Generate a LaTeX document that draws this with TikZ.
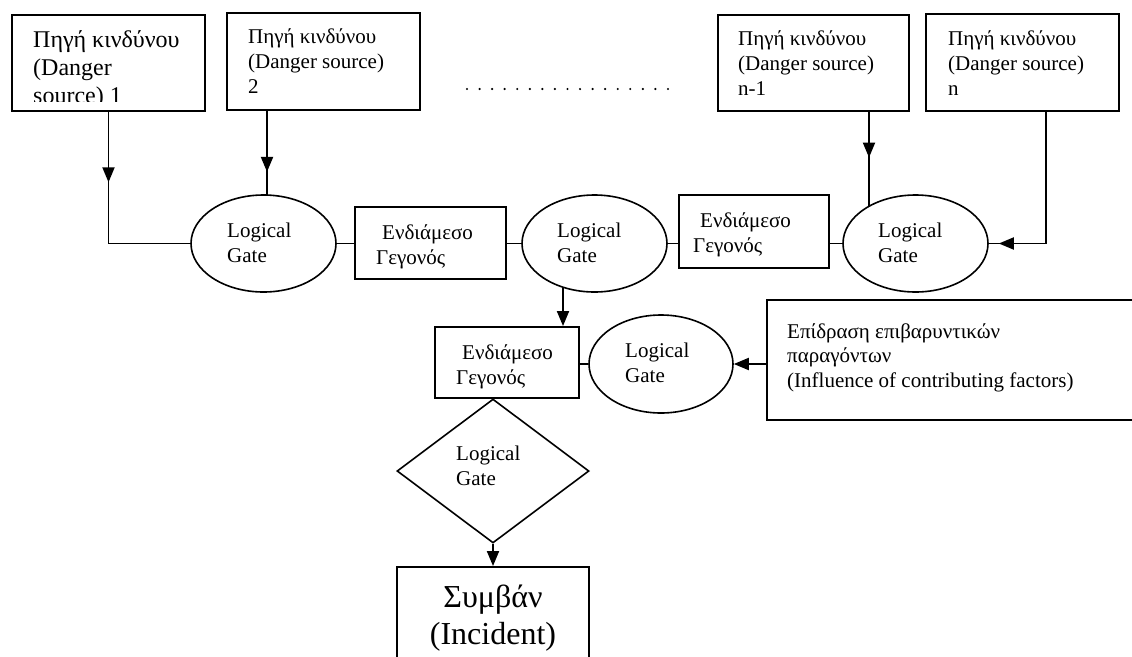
\documentclass[tikz,border=0pt]{standalone}
\usepackage{fontspec}
\setmainfont{Liberation Serif}
\usetikzlibrary{arrows.meta,shapes.geometric,decorations.markings,backgrounds}

\tikzset{
  tip/.tip={Triangle[length=15pt,width=12pt]},
  framebox/.style={draw, rectangle, line width=1.9pt, inner sep=0pt},
  gate/.style={draw, ellipse, fill=white, line width=1.6pt, inner sep=0pt,
               minimum width=145pt, minimum height=97pt},
  gatediamond/.style={draw, diamond, fill=white, line width=1.6pt, inner sep=0pt,
               minimum width=192pt, minimum height=144pt},
  txt/.style={inner sep=0pt, align=left, anchor=north west,
              font=\fontsize{21}{25}\selectfont},
  conn/.style={line width=1.9pt},
  endtip/.style={conn, -tip},
  midtip/.style={conn, postaction={decorate},
    decoration={markings, mark=at position #1 with {\arrow{tip}}}},
}

\begin{document}
\begin{tikzpicture}[x=1pt, y=-1pt]
\useasboundingbox (0,0) rectangle (1132,656);
\clip (0,0) rectangle (1132,656);

% danger sources
\node[framebox, minimum width=193pt, minimum height=96pt] (src1) at (108.5,63) {};
\begin{scope}
  % the first source's text runs past its inner margin and is cut there
  \clip (src1.north west) rectangle ([yshift=10pt]src1.south east);
  \node[txt, font=\fontsize{24}{28}\selectfont] (src1t) at (33,27.5)
    {\strut Πηγή κινδύνου\\(Danger\\source) 1};
\end{scope}
\node[framebox, minimum width=193pt, minimum height=97pt] (src2) at (323.5,61.5) {};
\node[txt] (src2t) at (248,25.5) {\strut Πηγή κινδύνου\\(Danger source)\\2};
\node[framebox, minimum width=191pt, minimum height=96pt] (srcm) at (813.5,63) {};
\node[txt] (srcmt) at (738,28) {\strut Πηγή κινδύνου\\(Danger source)\\n-1};
\node[framebox, minimum width=193pt, minimum height=97pt] (srcn) at (1022.5,62.5) {};
\node[txt] (srcnt) at (948,28) {\strut Πηγή κινδύνου\\(Danger source)\\n};

% ellipsis between the sources
\draw[line width=2.4pt, line cap=round, dash pattern=on 0pt off 12.56pt]
  (467,89) -- (669,89);

% gates and intermediate events
\node[gate] (g1) at (263.5,243.5) {};
\node[txt] (g1t) at (227,219.5) {\strut Logical\\Gate};
\node[framebox, minimum width=151pt, minimum height=72pt] (ev1) at (430.5,243) {};
\node[txt] (ev1t) at (376,221.5) {\strut\hspace*{6pt}Ενδιάμεσο\\Γεγονός};
\node[gate] (g2) at (594.5,243.5) {};
\node[txt] (g2t) at (557,219.5) {\strut Logical\\Gate};
\node[framebox, minimum width=150pt, minimum height=73pt] (ev2) at (754,231.5) {};
\node[txt] (ev2t) at (693,209.5) {\strut\hspace*{7pt}Ενδιάμεσο\\Γεγονός};
\node[gate] (g3) at (915.5,243.5) {};
\node[txt] (g3t) at (878,219.5) {\strut Logical\\Gate};

\node[framebox, minimum width=144pt, minimum height=71pt] (ev3) at (507,362.5) {};
\node[txt] (ev3t) at (456,341.5) {\strut\hspace*{6pt}Ενδιάμεσο\\Γεγονός};
\node[gate, minimum width=144pt, minimum height=98pt] (g4) at (661,364) {};
\node[txt] (g4t) at (625,339.5) {\strut Logical\\Gate};

\node[framebox, minimum width=378pt, minimum height=120pt] (infl) at (956,360) {};
\node[txt, font=\fontsize{21}{24.5}\selectfont] (inflt) at (787,321)
  {\strut Επίδραση επιβαρυντικών\\παραγόντων\\(Influence of contributing factors)};

\node[gatediamond] (g5) at (493,471) {};
\node[txt] (g5t) at (456,442.5) {\strut Logical\\Gate};

\node[framebox, minimum width=192pt, minimum height=113pt] (inc) at (493,623.5) {};
\node[txt, align=center, anchor=north, font=\fontsize{32}{37}\selectfont] (inct)
  at (493,581.5) {\strut Συμβάν\\(Incident)};

% connectors
\coordinate (x2) at (267,243.5);
\coordinate (xm) at (869,243.5);
\coordinate (xn) at (1046,243.5);
\coordinate (xd) at (563,243.5);
\begin{scope}[on background layer]
  \draw[midtip=0.33] (src1.south) |- (g1.west);
  \draw[midtip=0.46] (src2.south -| x2) -- (x2);
  \draw[midtip=0.347] (srcm.south -| xm) -- (xm);
  \draw[midtip=0.947] (srcn.south -| xn) |- (g3.east);
  \draw[conn] (g1.east) -- (g1.east -| ev1.west);
  \draw[conn] (g2.west -| ev1.east) -- (g2.west);
  \draw[conn] (g2.east) -- (g2.east -| ev2.west);
  \draw[conn] (g3.west -| ev2.east) -- (g3.west);
  \draw[endtip] (g2.center -| xd) -- (ev3.north -| xd);
  \draw[conn] (g4.west -| ev3.east) -- (g4.west);
  \draw[endtip] (infl.west |- g4.east) -- (g4.east);
  \draw[endtip] (g5.south) -- (inc.north);
\end{scope}
\end{tikzpicture}
\end{document}
